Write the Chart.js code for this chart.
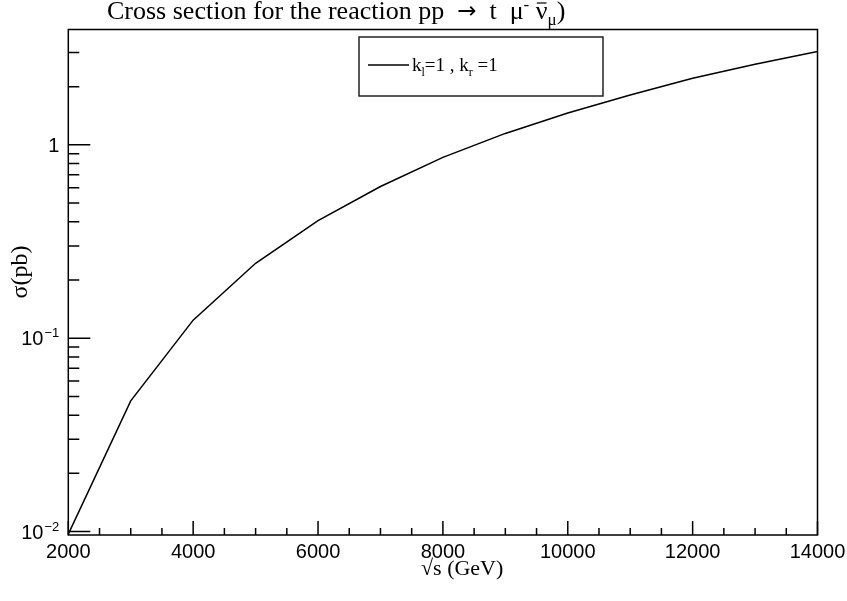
<!DOCTYPE html>
<html>
<head>
<meta charset="utf-8">
<script src="https://cdn.jsdelivr.net/npm/chart.js@4/dist/chart.umd.min.js"></script>
<style>
  html, body { margin: 0; padding: 0; background: #fff; }
  #wrap { width: 847px; height: 601px; }
</style>
</head>
<body>
<div id="wrap"><canvas id="xsec" width="847" height="601"></canvas></div>
<script>
// sqrt(s) in GeV and cross section in pb
const sqrtS = [2000, 3000, 4000, 5000, 6000, 7000, 8000, 9000, 10000, 11000, 12000, 13000, 14000];
const sigmaPb = [0.0097, 0.0474, 0.124, 0.244, 0.406, 0.609, 0.861, 1.146, 1.46, 1.81, 2.21, 2.61, 3.04];

const xMajorTicks = [2000, 4000, 6000, 8000, 10000, 12000, 14000];
const yDecades = [0.01, 0.1, 1];
const yDecadeLabels = [['10', '\u22122'], ['10', '\u22121'], ['1', '']];

const SANS = '"Liberation Sans", Arial, Helvetica, sans-serif';
const SERIF = '"Liberation Serif", "Times New Roman", Times, serif';

// ROOT-like frame: ticks inside, label text drawn by hand (superscripts/subscripts)
const frame = {
  id: 'frame',
  afterDraw(chart) {
    const { ctx, chartArea: a, scales } = chart;
    const xs = scales.x, ys = scales.y;
    ctx.save();
    ctx.strokeStyle = '#000';
    ctx.fillStyle = '#000';
    ctx.lineWidth = 1.5;

    ctx.strokeRect(a.left, a.top, a.right - a.left, a.bottom - a.top);

    // x ticks: majors every 2000, minors every 500
    ctx.beginPath();
    for (let v = xs.min; v <= xs.max + 1; v += 500) {
      const px = xs.getPixelForValue(v);
      const len = xMajorTicks.includes(v) ? 14 : 7;
      ctx.moveTo(px, a.bottom);
      ctx.lineTo(px, a.bottom - len);
    }
    // y ticks: decades long, 2..9 short
    for (let d = 0.001; d <= 10; d *= 10) {
      for (let m = 1; m <= 9; m++) {
        const v = d * m;
        if (v < ys.min || v > ys.max) continue;
        const py = ys.getPixelForValue(v);
        const len = m === 1 ? 22 : 11;
        ctx.moveTo(a.left, py);
        ctx.lineTo(a.left + len, py);
      }
    }
    ctx.stroke();

    // y tick labels
    ctx.textBaseline = 'alphabetic';
    yDecades.forEach((v, i) => {
      const py = ys.getPixelForValue(v);
      const [base, exp] = yDecadeLabels[i];
      const right = a.left - 9;
      ctx.font = '13px ' + SANS;
      const ew = exp ? ctx.measureText(exp).width : 0;
      ctx.font = '20px ' + SANS;
      ctx.textAlign = 'right';
      ctx.fillText(base, right - ew - (exp ? 1 : 0), py + 7);
      if (exp) {
        ctx.font = '13px ' + SANS;
        ctx.fillText(exp, right, py - 1);
      }
    });

    // axis titles
    ctx.font = '22px ' + SERIF;
    ctx.textAlign = 'left';
    ctx.fillText('\u221As (GeV)', 421, 575);

    ctx.save();
    ctx.translate(27, 272);
    ctx.rotate(-Math.PI / 2);
    ctx.textAlign = 'center';
    ctx.font = '24px ' + SERIF;
    ctx.fillText('\u03C3(pb)', 0, 0);
    ctx.restore();

    // plot title with superscript / subscript pieces
    let tx = 107;
    const tb = 19;
    const piece = (txt, font, dy) => {
      ctx.font = font;
      ctx.textAlign = 'left';
      ctx.fillText(txt, tx, tb + dy);
      const w = ctx.measureText(txt).width;
      tx += w;
      return w;
    };
    piece('Cross section for the reaction pp  ', '26px ' + SERIF, 0);
    piece('\u2192', '23px "DejaVu Sans", sans-serif', -1);
    piece('  t  \u03BC', '26px ' + SERIF, 0);
    piece('-', '17px ' + SERIF, -9);
    piece(' ', '26px ' + SERIF, 0);
    const nuX = tx;
    const nuW = piece('\u03BD', '26px ' + SERIF, 0);
    ctx.beginPath();
    ctx.lineWidth = 1.2;
    ctx.moveTo(nuX + 1, tb - 16);
    ctx.lineTo(nuX + nuW - 1, tb - 16);
    ctx.stroke();
    piece('\u03BC', '17px ' + SERIF, 6);
    piece(')', '26px ' + SERIF, 0);

    // legend box
    ctx.lineWidth = 1.5;
    ctx.strokeStyle = '#222';
    ctx.fillStyle = '#fff';
    ctx.fillRect(359, 37, 244, 59);
    ctx.strokeRect(359, 37, 244, 59);
    ctx.strokeStyle = '#000';
    ctx.beginPath();
    ctx.moveTo(368, 65);
    ctx.lineTo(409, 65);
    ctx.stroke();
    ctx.fillStyle = '#000';
    tx = 412;
    const lb = 71;
    const lp = (txt, size, dy) => {
      ctx.font = size + 'px ' + SERIF;
      ctx.fillText(txt, tx, lb + dy);
      tx += ctx.measureText(txt).width;
    };
    lp('k', 19, 0); lp('l', 12, 5); lp('=1 , k', 19, 0); lp('r', 12, 5); lp(' =1', 19, 0);

    ctx.restore();
  }
};

new Chart(document.getElementById('xsec'), {
  type: 'line',
  data: {
    labels: sqrtS,
    datasets: [{
      label: 'k_l=1 , k_r=1',
      data: sqrtS.map((x, i) => ({ x, y: sigmaPb[i] })),
      borderColor: '#000',
      borderWidth: 1.5,
      pointRadius: 0,
      tension: 0,
      fill: false,
    }],
  },
  options: {
    responsive: false,
    animation: false,
    layout: { padding: { top: 29.5, right: 29.5, left: 0, bottom: 0 } },
    plugins: { legend: { display: false }, tooltip: { enabled: false }, title: { display: false } },
    scales: {
      x: {
        type: 'linear',
        min: 2000,
        max: 14000,
        grid: { display: false },
        border: { display: false },
        ticks: {
          stepSize: 2000,
          autoSkip: false,
          maxRotation: 0,
          color: '#000',
          padding: -3,
          font: { family: SANS, size: 20 },
          callback: (v) => String(v),
        },
        afterFit(scale) { scale.height = 66; },
      },
      y: {
        type: 'logarithmic',
        min: 0.0096,
        max: 3.95,
        grid: { display: false },
        border: { display: false },
        ticks: { display: false },
        afterFit(scale) { scale.width = 68.3; },
      },
    },
  },
  plugins: [frame],
});
</script>
</body>
</html>
